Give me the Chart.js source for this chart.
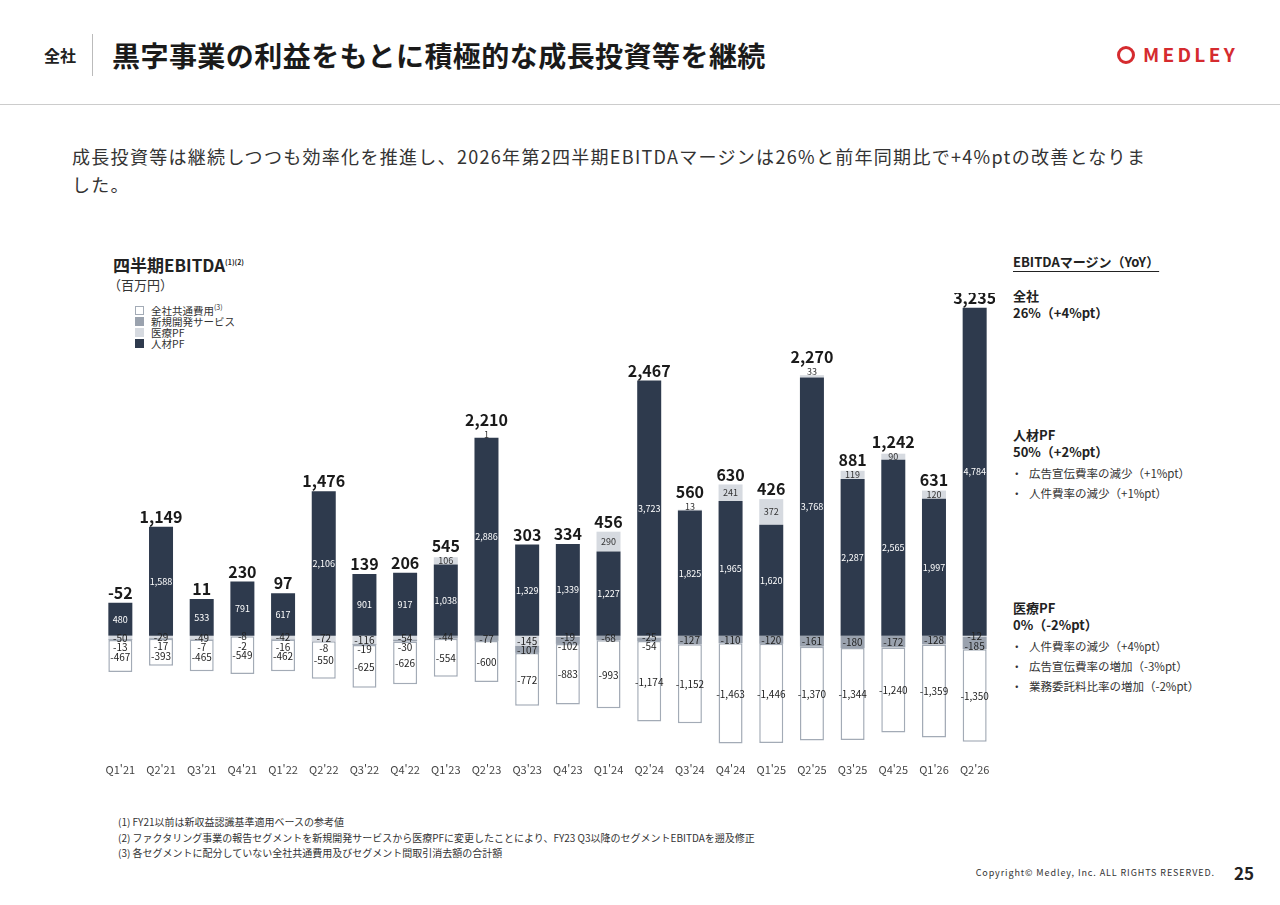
<!DOCTYPE html>
<html lang="ja">
<head>
<meta charset="utf-8">
<script src="https://cdn.jsdelivr.net/npm/chart.js@4.4.1/dist/chart.umd.min.js"></script>
<style>
  body { margin: 0; width: 1280px; height: 905px; background: #fff; position: relative; overflow: hidden;
         font-family: "Noto Sans CJK JP", "Noto Sans", sans-serif; color: #222; }
  .abs { position: absolute; white-space: nowrap; }
  .b { font-weight: 700; }
  .sq { position: absolute; width: 9px; height: 9px; box-sizing: border-box; }
  .bul { font-size: 11.5px; line-height: 20px; color: #333; }
  .bul span { display: inline-block; width: 18px; }
  sup { font-size: 7px; vertical-align: top; position: relative; top: -3px; }
</style>
</head>
<body>
<!-- header -->
<div class="abs b" style="left:44px;top:45px;font-size:16px;line-height:20px;">全社</div>
<div class="abs" style="left:92px;top:34px;width:1px;height:42px;background:#bbb;"></div>
<div class="abs b" style="left:112px;top:38px;font-size:28px;line-height:34px;letter-spacing:0.45px;color:#1a1a1a;">黒字事業の利益をもとに積極的な成長投資等を継続</div>
<div class="abs" style="left:1117px;top:46px;width:18px;height:18px;box-sizing:border-box;border:3.5px solid #d52b2f;border-radius:50%;"></div>
<div class="abs b" style="left:1143px;top:42px;font-size:19px;line-height:24px;letter-spacing:3.3px;color:#d52b2f;">MEDLEY</div>
<div class="abs" style="left:0;top:104px;width:1280px;height:1px;background:#ccc;"></div>

<div class="abs" style="left:72px;top:142px;font-size:18px;line-height:28px;letter-spacing:1.3px;color:#333;">成長投資等は継続しつつも効率化を推進し、2026年第2四半期EBITDAマージンは26%と前年同期比で+4%ptの改善となりま<br>した。</div>

<!-- chart title + legend -->
<div class="abs b" style="left:113px;top:254px;font-size:17px;line-height:22px;">四半期EBITDA<sup>(1)(2)</sup></div>
<div class="abs" style="left:108px;top:276px;font-size:13px;line-height:18px;color:#333;">（百万円）</div>
<div id="legend"></div>

<!-- right panel -->
<div class="abs b" style="left:1013px;top:253px;font-size:13px;line-height:18px;text-decoration:underline;text-underline-offset:4px;">EBITDAマージン（YoY）</div>
<div class="abs b" style="left:1013px;top:287px;font-size:13px;line-height:17px;">全社<br>26%（+4%pt）</div>
<div class="abs b" style="left:1013px;top:426px;font-size:13px;line-height:17px;">人材PF<br>50%（+2%pt）</div>
<div class="abs bul" style="left:1011px;top:463px;"><span>・</span>広告宣伝費率の減少（+1%pt）<br><span>・</span>人件費率の減少（+1%pt）</div>
<div class="abs b" style="left:1013px;top:599px;font-size:13px;line-height:17px;">医療PF<br>0%（-2%pt）</div>
<div class="abs bul" style="left:1011px;top:636px;"><span>・</span>人件費率の減少（+4%pt）<br><span>・</span>広告宣伝費率の増加（-3%pt）<br><span>・</span>業務委託料比率の増加（-2%pt）</div>

<!-- chart -->
<div class="abs" style="left:100px;top:293px;width:895px;height:490px;">
  <canvas id="ebitda" width="895" height="490"></canvas>
</div>

<!-- footnotes -->
<div class="abs" style="left:118px;top:814px;font-size:10px;line-height:15.5px;color:#333;">
(1) FY21以前は新収益認識基準適用ベースの参考値<br>
(2) ファクタリング事業の報告セグメントを新規開発サービスから医療PFに変更したことにより、FY23 Q3以降のセグメントEBITDAを遡及修正<br>
(3) 各セグメントに配分していない全社共通費用及びセグメント間取引消去額の合計額</div>
<div class="abs" style="right:65px;top:867px;font-size:9px;line-height:12px;letter-spacing:0.9px;color:#333;">Copyright© Medley, Inc. ALL RIGHTS RESERVED.</div>
<div class="abs b" style="left:1234px;top:862px;font-size:17px;line-height:22px;">25</div>

<script>
// quarters
const categories = ["Q1'21", "Q2'21", "Q3'21", "Q4'21", "Q1'22", "Q2'22", "Q3'22", "Q4'22", "Q1'23", "Q2'23", "Q3'23",
  "Q4'23", "Q1'24", "Q2'24", "Q3'24", "Q4'24", "Q1'25", "Q2'25", "Q3'25", "Q4'25", "Q1'26", "Q2'26"];

// segment EBITDA (百万円)
const jinzaiPF = [480, 1588, 533, 791, 617, 2106, 901, 917, 1038, 2886, 1329, 1339, 1227, 3723, 1825, 1965, 1620, 3768, 2287, 2565, 1997, 4784];
const iryoPF = [-50, -29, -49, -8, -42, -72, -116, -54, 106, 1, -145, -19, 290, -25, 13, 241, 372, 33, 119, 90, 120, -12];
const shinkiKaihatsu = [-13, -17, -7, -2, -16, -8, -19, -30, -44, -77, -107, -102, -68, -54, -127, -110, -120, -161, -180, -172, -128, -185];
const zenshaKyotsu = [-467, -393, -465, -549, -462, -550, -625, -626, -554, -600, -772, -883, -993, -1174, -1152, -1463, -1446, -1370, -1344, -1240, -1359, -1350];

// total EBITDA shown above each bar
const totals = [-52, 1149, 11, 230, 97, 1476, 139, 206, 545, 2210, 303, 334, 456, 2467, 560, 630, 426, 2270, 881, 1242, 631, 3235];

const legendItems = [
  { label: "全社共通費用<sup>(3)</sup>", color: "#fff", border: "#a3abb6" },
  { label: "新規開発サービス", color: "#9aa2ae", border: "#9aa2ae" },
  { label: "医療PF", color: "#d6dae0", border: "#d6dae0" },
  { label: "人材PF", color: "#2e3a4d", border: "#2e3a4d" }
];

// legend
let legend = document.getElementById("legend");
legendItems.forEach(function(item, i) {
  let top = 305 + i * 11;
  let sq = document.createElement("div");
  sq.className = "sq";
  sq.style.left = "135px";
  sq.style.top = (top + 1) + "px";
  sq.style.background = item.color;
  sq.style.border = "1px solid " + item.border;
  legend.appendChild(sq);
  let txt = document.createElement("div");
  txt.className = "abs";
  txt.style.cssText = "left:151px;top:" + top + "px;font-size:10.5px;line-height:11px;color:#333;";
  txt.innerHTML = item.label;
  legend.appendChild(txt);
});

const fmt = (v) => v.toLocaleString("en-US");

// value labels drawn from the bar elements
const segLabels = {
  id: "segLabels",
  afterDatasetsDraw(chart) {
    const ctx = chart.ctx;
    const metas = [0, 1, 2, 3].map((i) => chart.getDatasetMeta(i));
    const values = [jinzaiPF, iryoPF, shinkiKaihatsu, zenshaKyotsu];
    const ff = "'Noto Sans CJK JP', 'Noto Sans', sans-serif";
    ctx.save();
    ctx.textAlign = "center";
    categories.forEach(function(c, i) {
      const dark = metas[0].data[i];
      const x = dark.x;
      // 人材PF
      ctx.fillStyle = "#fff";
      ctx.font = "9px " + ff;
      ctx.textBaseline = "middle";
      ctx.fillText(fmt(jinzaiPF[i]), x, (dark.y + dark.base) / 2);

      let totalBottom = dark.y - 4;
      // 医療PF positive
      if (iryoPF[i] > 0) {
        const el = metas[1].data[i];
        const h = el.base - el.y;
        ctx.fillStyle = "#333";
        if (h < 5) {
          ctx.textBaseline = "bottom";
          ctx.fillText(fmt(iryoPF[i]), x, el.y + 1);
          totalBottom = el.y - 12;
        } else {
          const mid = (el.y + el.base) / 2;
          ctx.textBaseline = "middle";
          ctx.fillText(fmt(iryoPF[i]), x, mid);
          totalBottom = Math.min(el.y - 4, mid - 9);
        }
      }
      // negative segments, pushed apart so they do not overlap
      ctx.font = "10px " + ff;
      ctx.fillStyle = "#222";
      ctx.textBaseline = "middle";
      let prev = -100;
      for (let d = 1; d < 4; d++) {
        if (values[d][i] >= 0) continue;
        const el = metas[d].data[i];
        let y = Math.max((el.y + el.base) / 2 + 0.5, prev + 9.5);
        ctx.fillText(fmt(values[d][i]), x, y);
        prev = y;
      }
      // total
      ctx.font = "bold 16px " + ff;
      ctx.fillStyle = "#1a1a1a";
      ctx.textBaseline = "bottom";
      ctx.fillText(fmt(totals[i]), x, totalBottom + 2);
    });
    ctx.restore();
  }
};

Chart.defaults.font.family = "'Noto Sans CJK JP', 'Noto Sans', sans-serif";

let chartCtx = document.getElementById("ebitda").getContext("2d");
let ebitdaChart = new Chart(chartCtx, {
  type: "bar",
  data: {
    labels: categories,
    datasets: [
      { label: "人材PF", data: jinzaiPF, backgroundColor: "#2e3a4d", stack: "a" },
      { label: "医療PF", data: iryoPF, backgroundColor: "#d6dae0", stack: "a" },
      { label: "新規開発サービス", data: shinkiKaihatsu, backgroundColor: "#9aa2ae", stack: "a" },
      { label: "全社共通費用", data: zenshaKyotsu, backgroundColor: "#ffffff", borderColor: "#a3abb6",
        borderWidth: 1.5, borderSkipped: false, stack: "a" }
    ]
  },
  options: {
    responsive: false,
    animation: false,
    devicePixelRatio: 1,
    layout: { padding: 0 },
    datasets: { bar: { barPercentage: 0.59, categoryPercentage: 1.0 } },
    plugins: { legend: { display: false }, tooltip: { enabled: false } },
    scales: {
      x: {
        stacked: true,
        grid: { display: false, drawTicks: false },
        border: { display: false },
        ticks: { color: "#444", font: { size: 11 }, padding: 4, maxRotation: 0, autoSkip: false },
        afterFit: function(scale) { scale.height = 24; }
      },
      y: { stacked: true, display: false, min: -1800, max: 5000 }
    }
  },
  plugins: [segLabels]
});
</script>
</body>
</html>
